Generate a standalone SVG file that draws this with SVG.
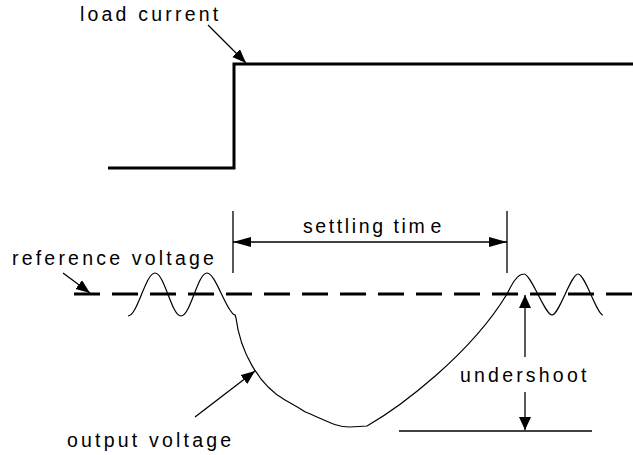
<svg xmlns="http://www.w3.org/2000/svg" width="633" height="455" viewBox="0 0 633 455">
<style>
text{font-family:"Liberation Sans",Arial,sans-serif;font-size:19.5px;letter-spacing:3.2px;fill:#000}
.thick{fill:none;stroke:#000;stroke-width:3}
.thin{fill:none;stroke:#000;stroke-width:1.3}
.wave{fill:none;stroke:#000;stroke-width:1.2}
.dash{fill:none;stroke:#000;stroke-width:3;stroke-dasharray:26 12}
</style>
<defs>
<marker id="ah" markerUnits="userSpaceOnUse" markerWidth="16" markerHeight="12" refX="14" refY="5.5" orient="auto"><path d="M0,0 L14,5.5 L0,11 z" fill="#000"/></marker>
<marker id="ahv" markerUnits="userSpaceOnUse" markerWidth="16" markerHeight="14" refX="13" refY="6" orient="auto-start-reverse"><path d="M0,0 L13,6 L0,12 z" fill="#000"/></marker>
<marker id="ahs" markerUnits="userSpaceOnUse" markerWidth="20" markerHeight="12" refX="18" refY="5" orient="auto-start-reverse"><path d="M0,0 L18,5 L0,10 z" fill="#000"/></marker>
</defs>
<g id="load-current-label"><text x="80" y="21">load current</text></g>
<g id="load-current-step"><path class="thick" d="M108,168 L234,168 L234,64 L633,64"/></g>
<g id="reference-voltage-label"><text x="12" y="265">reference voltage</text></g>
<g id="reference-voltage-line"><path class="dash" d="M74,294 L633,294"/></g>
<g id="settling-time-marks"><path class="thin" d="M233,211 L233,273 M507,211 L507,273"/></g>
<g id="settling-time-label"><text x="303" y="233" style="letter-spacing:2.6px">settling tim<tspan dx="3">e</tspan></text></g>
<g id="output-voltage-curve"><path class="wave" d="M128,316 C137.5,316 145.5,273 155,273 C164.5,273 171.5,316 181,316 C190.5,316 197.5,273 207,273 C214,273 222,298 230,310 L233,314 L235,315 L236,318 C240,350 258,385 285,400 S300,410 308,413 C325,420 335,427 350,427 L367,426 C400,407 470,355 507,294 C512,284 517,274 524,274 C531,274 545,315 552,315 C559,315 571,274 578,274 C585,274 597,315 603,315"/></g>
<g id="undershoot-label"><text x="460" y="382">undershoot</text></g>
<g id="undershoot-baseline"><path class="thin" d="M399,431 L592,431"/></g>
<g id="output-voltage-label"><text x="67" y="447">output voltage</text></g>
<g id="connectors">
<path class="thin" d="M208,25 L246,63" marker-end="url(#ah)"/>
<path class="thin" d="M63,273 L90,293" marker-end="url(#ah)"/>
<path class="thin" d="M233,242 L507,242" marker-start="url(#ahs)" marker-end="url(#ahs)"/>
<path class="thin" d="M525,357 L525,295" marker-end="url(#ahv)"/>
<path class="thin" d="M525,392 L525,430" marker-end="url(#ahv)"/>
<path class="thin" d="M195,417 L255,371" marker-end="url(#ah)"/>
</g>
</svg>
